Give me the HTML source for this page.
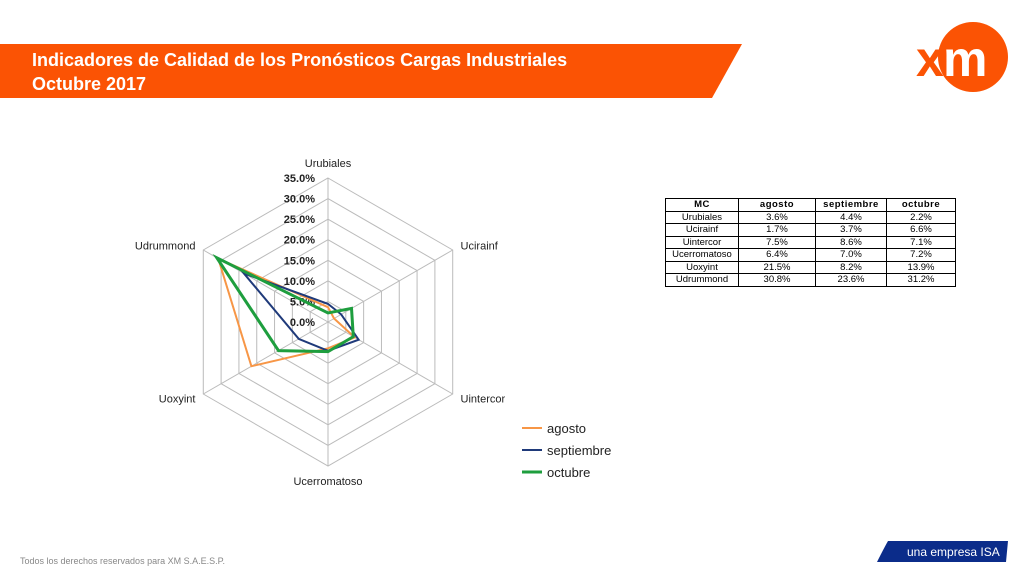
<!DOCTYPE html>
<html><head><meta charset="utf-8"><style>
body{margin:0;width:1024px;height:576px;background:#fff;position:relative;overflow:hidden;font-family:"Liberation Sans",sans-serif}
table{position:absolute;left:665px;top:198px;border-collapse:collapse;font-size:9.5px}
td,th{border:1px solid #000;text-align:center;padding:0;height:11.5px;line-height:11px}
th{font-weight:bold;letter-spacing:0.5px}
</style></head><body>
<svg width="1024" height="576" style="position:absolute;left:0;top:0">
<polygon points="0,44 742,44 712,98 0,98" fill="#FB5304"/>
<text x="32" y="66" font-size="18" font-weight="bold" fill="#fff" font-family="Liberation Sans">Indicadores de Calidad de los Pronósticos Cargas Industriales</text>
<text x="32" y="90" font-size="18" font-weight="bold" fill="#fff" font-family="Liberation Sans">Octubre 2017</text>
<g>
<circle cx="973" cy="57" r="35" fill="#FB5304"/>
<text x="916" y="76" font-size="50" font-weight="bold" fill="#FB5304" font-family="Liberation Sans">x</text>
<text x="943" y="76" font-size="50" font-weight="bold" fill="#fff" font-family="Liberation Sans">m</text>
</g>
<path d="M888,541 L1008,541 L1006,562 L877,562 Q884,548 888,541Z" fill="#0B2C8A"/>
<text x="907" y="556" font-size="12" fill="#fff" font-family="Liberation Sans">una empresa ISA</text>
<text x="20" y="564" font-size="9" fill="#888" font-family="Liberation Sans">Todos los derechos reservados para XM S.A.E.S.P.</text>
<g id="radar"></g>
</svg>
<table>
<tr><th style="width:72px">MC</th><th style="width:76px">agosto</th><th style="width:70px">septiembre</th><th style="width:68px">octubre</th></tr>
<tr><td>Urubiales</td><td>3.6%</td><td>4.4%</td><td>2.2%</td></tr>
<tr><td>Ucirainf</td><td>1.7%</td><td>3.7%</td><td>6.6%</td></tr>
<tr><td>Uintercor</td><td>7.5%</td><td>8.6%</td><td>7.1%</td></tr>
<tr><td>Ucerromatoso</td><td>6.4%</td><td>7.0%</td><td>7.2%</td></tr>
<tr><td>Uoxyint</td><td>21.5%</td><td>8.2%</td><td>13.9%</td></tr>
<tr><td>Udrummond</td><td>30.8%</td><td>23.6%</td><td>31.2%</td></tr>
</table>
<script>
const categories=["Urubiales","Ucirainf","Uintercor","Ucerromatoso","Uoxyint","Udrummond"];
const agosto=[3.6,1.7,7.5,6.4,21.5,30.8];
const septiembre=[4.4,3.7,8.6,7.0,8.2,23.6];
const octubre=[2.2,6.6,7.1,7.2,13.9,31.2];
const seriesNames=["agosto","septiembre","octubre"];
const ticks=[0,5,10,15,20,25,30,35];
const NS="http://www.w3.org/2000/svg";
const g=document.getElementById('radar');
const cx=328,cy=322,R=144,maxV=35;
function pt(i,v){const a=-Math.PI/2+i*Math.PI/3;const r=v/maxV*R;return [cx+r*Math.cos(a),cy+r*Math.sin(a)];}
function mk(t,attrs){const e=document.createElementNS(NS,t);for(const k in attrs)e.setAttribute(k,attrs[k]);g.appendChild(e);return e;}
ticks.forEach(t=>{if(t===0)return;
const p=mk('polygon',{points:categories.map((c,i)=>pt(i,t).join(',')).join(' '),fill:'none',stroke:'#bbb','stroke-width':1});

});
categories.forEach((c,i)=>{const e=pt(i,maxV);
const l=mk('line',{x1:cx,y1:cy,x2:e[0],y2:e[1],stroke:'#bbb','stroke-width':1});


const lp=pt(i,maxV+2.2);let anchor='middle',dx=0,dy=4;
if(i===1||i===2){anchor='start';dx=0}if(i===4||i===5){anchor='end';}
if(i===0)dy=-2;if(i===3)dy=10;
const t=mk('text',{x:lp[0]+dx,y:lp[1]+dy,'text-anchor':anchor,'font-size':11,fill:'#222','font-family':'Liberation Sans'});
t.textContent=c;

});
ticks.forEach(t=>{const p=pt(0,t);
const tx=mk('text',{x:cx-13,y:p[1]+4,'text-anchor':'end','font-size':11,'font-weight':'bold',fill:'#222','font-family':'Liberation Sans'});
tx.textContent=t.toFixed(1)+'%';

});
const data=[agosto,septiembre,octubre];
const colors=['#F79646','#1F3A7A','#1E9E3E'];
const widths=[2,2,3];
data.forEach((s,k)=>{
const p=mk('polygon',{points:s.map((v,i)=>pt(i,v).join(',')).join(' '),fill:'none',stroke:colors[k],'stroke-width':widths[k],'stroke-linejoin':'miter'});


const y=428+k*22;
const l=mk('line',{x1:522,y1:y,x2:542,y2:y,stroke:colors[k],'stroke-width':widths[k]});


const t=mk('text',{x:547,y:y+5,'font-size':13,fill:'#222','font-family':'Liberation Sans'});
t.textContent=seriesNames[k];

});
</script>
</body></html>
